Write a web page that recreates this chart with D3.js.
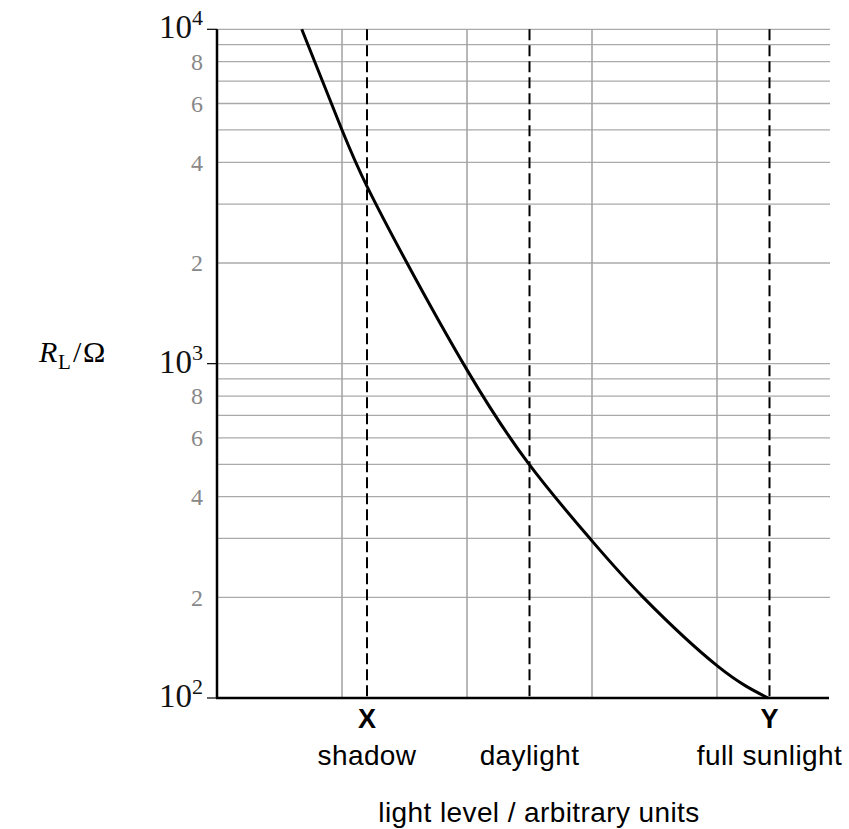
<!DOCTYPE html>
<html>
<head>
<meta charset="utf-8">
<script src="https://cdn.jsdelivr.net/npm/d3@7"></script>
<style>
  body { margin: 0; background: #fff; }
  svg { display: block; }
</style>
</head>
<body>
<svg id="chart" width="849" height="829"></svg>
<script>
// light level (arbitrary units) vs LDR resistance (ohm)
var lightLevel = [0.678, 1.0, 1.2, 1.52, 2.0, 2.49, 3.0, 3.41, 4.0, 4.41];
var resistance = [10000, 5000, 3390, 2000, 958, 504, 295, 200, 125, 100];

// x grid lines and marked positions
var xGrid = [1, 2, 3, 4];
var markPos = [1.2, 2.5, 4.42];
var markLetters = ['X', '', 'Y'];
var markNames = ['shadow', 'daylight', 'full sunlight'];

// y ticks
var decades = [100, 1000, 10000];
var decadeExp = ['2', '3', '4'];
var minorLabelled = [2, 4, 6, 8];

var svg = d3.select('#chart');
var serif = '"Liberation Serif", "Times New Roman", serif';
var sans = '"Liberation Sans", Arial, sans-serif';

var x = d3.scaleLinear().domain([0, 4.9]).range([217, 829.5]);
var y = d3.scaleLog().domain([100, 10000]).range([698, 29.3]);

// horizontal grid (every 1..9 in each decade)
var hGrid = [];
[100, 1000].forEach(function(base) {
  for (var k = 1; k <= 9; k++) hGrid.push(base * k);
});
hGrid.push(10000);

svg.append('g').selectAll('line')
  .data(hGrid.filter(function(v) { return v !== 100; }))
  .enter().append('line')
  .attr('x1', x(0)).attr('x2', 830)
  .attr('y1', function(d) { return y(d); })
  .attr('y2', function(d) { return y(d); })
  .attr('stroke', '#aaa')
  .attr('stroke-width', 1.3);

// vertical grid
svg.append('g').selectAll('line')
  .data(xGrid)
  .enter().append('line')
  .attr('x1', function(d) { return x(d); })
  .attr('x2', function(d) { return x(d); })
  .attr('y1', y(10000)).attr('y2', y(100))
  .attr('stroke', '#a0a0a0')
  .attr('stroke-width', 1.5);

// dashed markers
svg.append('g').selectAll('line')
  .data(markPos)
  .enter().append('line')
  .attr('x1', function(d) { return x(d); })
  .attr('x2', function(d) { return x(d); })
  .attr('y1', y(10000)).attr('y2', y(100))
  .attr('stroke', '#000')
  .attr('stroke-width', 2)
  .attr('stroke-dasharray', '11,5');

// axes
svg.append('line')
  .attr('x1', x(0)).attr('x2', x(0))
  .attr('y1', y(10000)).attr('y2', y(100))
  .attr('stroke', '#000').attr('stroke-width', 2.5);
svg.append('line')
  .attr('x1', x(0) - 1).attr('x2', 829)
  .attr('y1', y(100)).attr('y2', y(100))
  .attr('stroke', '#000').attr('stroke-width', 2.5);

// decade ticks and labels
var dec = svg.append('g').selectAll('g')
  .data(decades)
  .enter().append('g')
  .attr('transform', function(d) { return 'translate(0,' + y(d) + ')'; });
dec.append('line')
  .attr('x1', 207).attr('x2', 217)
  .attr('stroke', '#000').attr('stroke-width', 1.2);
var decText = dec.append('text')
  .attr('x', 203).attr('y', 9)
  .attr('text-anchor', 'end')
  .style('font-family', serif)
  .style('font-size', '33px')
  .attr('fill', '#111');
decText.append('tspan').text('10');
decText.append('tspan')
  .attr('dy', -13)
  .style('font-size', '22px')
  .text(function(d, i) { return decadeExp[i]; });

// minor labels
var minorVals = [];
[100, 1000].forEach(function(base) {
  minorLabelled.forEach(function(k) { minorVals.push({ v: base * k, k: k }); });
});
svg.append('g').selectAll('text')
  .data(minorVals)
  .enter().append('text')
  .attr('x', 203)
  .attr('y', function(d) { return y(d.v); })
  .attr('dy', '0.35em')
  .attr('text-anchor', 'end')
  .style('font-family', serif)
  .style('font-size', '24px')
  .attr('fill', '#888')
  .text(function(d) { return d.k; });

// curve
var line = d3.line()
  .x(function(d) { return x(d[0]); })
  .y(function(d) { return y(d[1]); })
  .curve(d3.curveNatural);
svg.append('path')
  .datum(d3.zip(lightLevel, resistance))
  .attr('d', line)
  .attr('fill', 'none')
  .attr('stroke', '#000')
  .attr('stroke-width', 3);

// x labels
svg.append('g').selectAll('text')
  .data(markPos)
  .enter().append('text')
  .attr('x', function(d) { return x(d); })
  .attr('y', 728)
  .attr('text-anchor', 'middle')
  .style('font-family', sans)
  .style('font-size', '27px')
  .style('font-weight', 'bold')
  .text(function(d, i) { return markLetters[i]; });
svg.append('g').selectAll('text')
  .data(markPos)
  .enter().append('text')
  .attr('x', function(d) { return x(d); })
  .attr('y', 765)
  .attr('text-anchor', 'middle')
  .style('font-family', sans)
  .style('font-size', '28px')
  .style('letter-spacing', '0.4px')
  .text(function(d, i) { return markNames[i]; });

svg.append('text')
  .attr('x', 539).attr('y', 822)
  .attr('text-anchor', 'middle')
  .style('font-family', sans)
  .style('font-size', '28px')
  .style('letter-spacing', '0.4px')
  .text('light level / arbitrary units');

// y title
var yTitle = svg.append('g').style('font-family', serif).style('font-size', '30px');
yTitle.append('text').attr('x', 39).attr('y', 362).style('font-style', 'italic').text('R');
yTitle.append('text').attr('x', 58).attr('y', 369).style('font-size', '21px').text('L');
yTitle.append('text').attr('x', 73).attr('y', 362).text('/');
yTitle.append('text').attr('x', 83).attr('y', 362).text('Ω');
</script>
</body>
</html>
